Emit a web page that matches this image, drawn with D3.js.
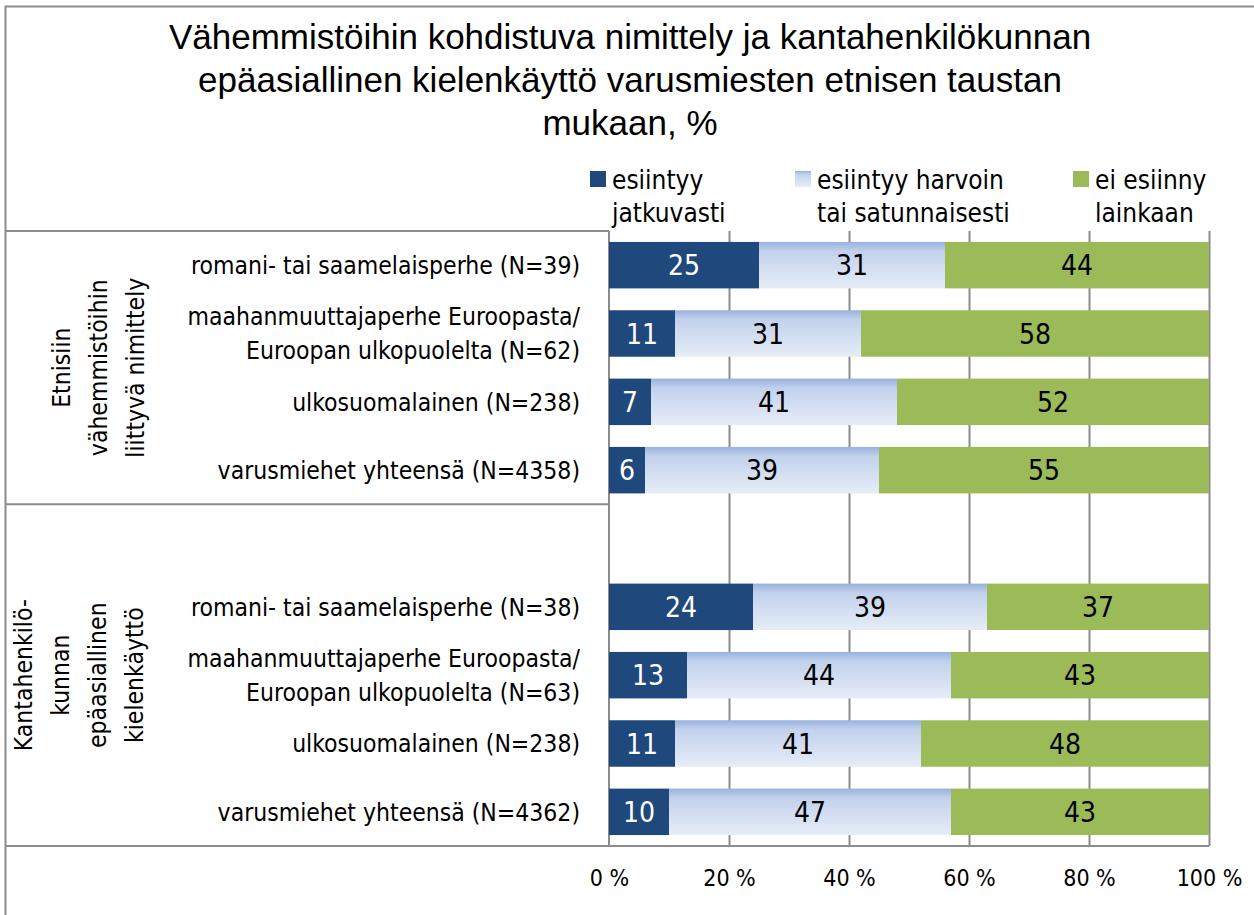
<!DOCTYPE html>
<html>
<head>
<meta charset="utf-8">
<script src="https://cdn.jsdelivr.net/npm/d3@7"></script>
<style>
  body { margin: 0; background: #fff; }
  svg text { fill: #000; }
  .narrow { font-family: "Liberation Sans Narrow", "DejaVu Sans Condensed", "Liberation Sans", sans-serif; }
  .title { font-family: "Liberation Sans", Arial, sans-serif; font-size: 35px; }
</style>
</head>
<body>
<div id="chart"></div>
<script>
// --- data ---
var titleLines = [
    'Vähemmistöihin kohdistuva nimittely ja kantahenkilökunnan',
    'epäasiallinen kielenkäyttö varusmiesten etnisen taustan',
    'mukaan, %'
];
var rowLabels = [
    ['romani- tai saamelaisperhe (N=39)'],
    ['maahanmuuttajaperhe Euroopasta/', 'Euroopan ulkopuolelta (N=62)'],
    ['ulkosuomalainen (N=238)'],
    ['varusmiehet yhteensä (N=4358)'],
    ['romani- tai saamelaisperhe (N=38)'],
    ['maahanmuuttajaperhe Euroopasta/', 'Euroopan ulkopuolelta (N=63)'],
    ['ulkosuomalainen (N=238)'],
    ['varusmiehet yhteensä (N=4362)']
];
var continuous = [25, 11, 7, 6, 24, 13, 11, 10];
var occasional = [31, 31, 41, 39, 39, 44, 41, 47];
var never      = [44, 58, 52, 55, 37, 43, 48, 43];
var seriesNames = [
    ['esiintyy', 'jatkuvasti'],
    ['esiintyy harvoin', 'tai satunnaisesti'],
    ['ei esiinny', 'lainkaan']
];
var groupLabels = [
    ['Etnisiin', 'vähemmistöihin', 'liittyvä nimittely'],
    ['Kantahenkilö-', 'kunnan', 'epäasiallinen', 'kielenkäyttö']
];
var tickValues = [0, 20, 40, 60, 80, 100];

// --- layout ---
var width = 1254,
    height = 915,
    plotLeft = 609,
    plotRight = 1209,
    plotTop = 231,
    plotBottom = 846,
    lineColor = '#8c8c8c';

var svg = d3.select('#chart').append('svg')
    .attr('width', width)
    .attr('height', height);

var defs = svg.append('defs');
var grad = defs.append('linearGradient')
    .attr('id', 'lightBlue')
    .attr('x1', 0).attr('y1', 0).attr('x2', 0).attr('y2', 1);
grad.append('stop').attr('offset', '0%').attr('stop-color', '#97b2de');
grad.append('stop').attr('offset', '20%').attr('stop-color', '#c2d1ec');
grad.append('stop').attr('offset', '100%').attr('stop-color', '#e6edf7');

var colors = ['#1f497d', 'url(#lightBlue)', '#9bbb59'];
var textColors = ['#fff', '#000', '#000'];

// outer frame (left and top edges only are inside the picture)
svg.append('path')
    .attr('d', 'M5.5,' + height + 'V6.5H' + width)
    .attr('fill', 'none')
    .attr('stroke', lineColor)
    .attr('stroke-width', 2);

// title
svg.append('text')
    .attr('class', 'title')
    .attr('text-anchor', 'middle')
    .selectAll('tspan')
    .data(titleLines)
    .enter().append('tspan')
    .attr('x', 630)
    .attr('y', function(d, i) { return 49 + i * 43; })
    .text(function(d) { return d; });

// scales: 9 slots, slot 4 is empty gap between the two groups
var slotOf = function(i) { return i < 4 ? i : i + 1; };
var y = d3.scaleBand()
    .domain(d3.range(9))
    .range([plotTop, plotBottom])
    .paddingInner(0.32)
    .paddingOuter(0.16);
var x = d3.scaleLinear()
    .domain([0, 100])
    .range([plotLeft, plotRight]);

// gridlines
svg.append('g')
    .selectAll('line')
    .data(tickValues.slice(1))
    .enter().append('line')
    .attr('x1', function(d) { return x(d) + 0.5; })
    .attr('x2', function(d) { return x(d) + 0.5; })
    .attr('y1', plotTop)
    .attr('y2', plotBottom)
    .attr('stroke', lineColor)
    .attr('stroke-width', 2);

// table lines on the left
var midLine = plotTop + 4 * y.step();
var tableLines = svg.append('g').attr('stroke', lineColor).attr('stroke-width', 2);
tableLines.append('line').attr('x1', 5).attr('x2', plotLeft).attr('y1', plotTop).attr('y2', plotTop);
tableLines.append('line').attr('x1', 5).attr('x2', plotLeft).attr('y1', midLine).attr('y2', midLine);
tableLines.append('line').attr('x1', 5).attr('x2', plotRight).attr('y1', plotBottom).attr('y2', plotBottom);
tableLines.append('line').attr('x1', plotLeft).attr('x2', plotLeft).attr('y1', plotTop).attr('y2', plotBottom);

// stacked bars
var rows = rowLabels.map(function(d, i) {
    return { i: i, a: continuous[i], b: occasional[i], c: never[i] };
});
var stack = d3.stack().keys(['a', 'b', 'c']);
var layers = stack(rows);

var layer = svg.selectAll('g.layer')
    .data(layers)
    .enter().append('g')
    .attr('class', 'layer');

layer.selectAll('rect')
    .data(function(d) { return d; })
    .enter().append('rect')
    .attr('x', function(d) { return x(d[0]); })
    .attr('width', function(d) { return x(d[1]) - x(d[0]); })
    .attr('y', function(d) { return y(slotOf(d.data.i)); })
    .attr('height', y.bandwidth())
    .attr('fill', function(d, i, nodes) { return colors[d3.select(nodes[i].parentNode).datum().index]; });

layer.selectAll('text')
    .data(function(d) { return d; })
    .enter().append('text')
    .attr('class', 'narrow')
    .attr('x', function(d) { return (x(d[0]) + x(d[1])) / 2; })
    .attr('y', function(d) { return y(slotOf(d.data.i)) + y.bandwidth() / 2; })
    .attr('dy', '0.36em')
    .attr('text-anchor', 'middle')
    .style('font-size', '28px')
    .style('fill', function(d, i, nodes) { return textColors[d3.select(nodes[i].parentNode).datum().index]; })
    .text(function(d) { return d[1] - d[0]; });

// row labels
svg.append('g')
    .selectAll('text')
    .data(rowLabels)
    .enter().append('text')
    .attr('class', 'narrow')
    .attr('text-anchor', 'end')
    .style('font-size', '24.5px')
    .each(function(d, i) {
        var cy = y(slotOf(i)) + y.bandwidth() / 2;
        d3.select(this).selectAll('tspan')
            .data(d)
            .enter().append('tspan')
            .attr('x', 580)
            .attr('y', function(t, j) { return cy + (j - (d.length - 1) / 2) * 34; })
            .attr('dy', '0.36em')
            .text(function(t) { return t; });
    });

// group labels (rotated), centred in their table cells
var groupCenters = [(plotTop + midLine) / 2, (midLine + plotBottom) / 2];
svg.append('g')
    .selectAll('text')
    .data(groupLabels)
    .enter().append('text')
    .attr('class', 'narrow')
    .attr('text-anchor', 'middle')
    .style('font-size', '24.5px')
    .attr('transform', function(d, i) { return 'translate(' + (i === 0 ? 98 : 79) + ',' + groupCenters[i] + ') rotate(-90)'; })
    .each(function(d) {
        d3.select(this).selectAll('tspan')
            .data(d)
            .enter().append('tspan')
            .attr('x', 0)
            .attr('y', function(t, j) { return (j - (d.length - 1) / 2) * 37; })
            .attr('dy', '0.36em')
            .text(function(t) { return t; });
    });

// x axis
var xAxis = svg.append('g')
    .attr('transform', 'translate(0,' + plotBottom + ')')
    .call(d3.axisBottom(x).tickValues(tickValues).tickSize(0).tickPadding(24)
        .tickFormat(function(d) { return d + ' %'; }));
xAxis.select('.domain').remove();
xAxis.selectAll('text')
    .attr('class', 'narrow')
    .style('font-size', '23px')
    .style('fill', '#000');

// legend
var legendX = [590, 795, 1073];
var legend = svg.append('g')
    .selectAll('g')
    .data(seriesNames)
    .enter().append('g')
    .attr('transform', function(d, i) { return 'translate(' + legendX[i] + ',171)'; });
legend.append('rect')
    .attr('width', 16)
    .attr('height', 16)
    .attr('fill', function(d, i) { return colors[i]; });
legend.append('text')
    .attr('class', 'narrow')
    .style('font-size', '26px')
    .selectAll('tspan')
    .data(function(d) { return d; })
    .enter().append('tspan')
    .attr('x', 22)
    .attr('y', function(d, j) { return 18 + j * 33; })
    .text(function(d) { return d; });
</script>
</body>
</html>
